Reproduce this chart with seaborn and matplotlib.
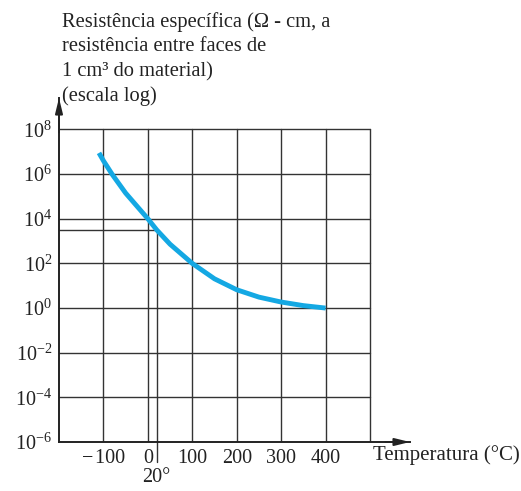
import numpy as np
import pandas as pd
import seaborn as sns
import matplotlib
matplotlib.use("Agg")
import matplotlib.pyplot as plt
from matplotlib.transforms import blended_transform_factory

# ---- data ----
temperatura = [-110, -100, -80, -50, 0, 20, 50, 100, 150, 200, 250, 300, 350, 400]
log_resist = [6.95, 6.6, 5.98, 5.15, 4.0, 3.5, 2.86, 2.0, 1.31, 0.82, 0.49, 0.27, 0.11, 0.0]
x_ticks = [-100, 0, 100, 200, 300, 400]
x_tick_labels = ["\u2212\u200a100", "0", "100", "200", "300", "400"]
x_grid = [-100, 0, 100, 200, 300, 400, 500]
y_exponents = [-6, -4, -2, 0, 2, 4, 6, 8]
ref_temp = 20
ref_log = 3.49

title_lines = ["Resistência específica (Ω - cm, a",
               "resistência entre faces de",
               "1 cm³ do material)",
               "(escala log)"]
x_label = "Temperatura (°C)"

df = pd.DataFrame({"T": temperatura, "R": [10.0 ** v for v in log_resist]})

sns.set_style("white")
plt.rcParams['font.family'] = ['Liberation Serif', 'DejaVu Serif']
plt.rcParams['mathtext.fontset'] = 'custom'
plt.rcParams['mathtext.rm'] = 'Liberation Serif'
plt.rcParams['mathtext.it'] = 'Liberation Serif:italic'
plt.rcParams['mathtext.bf'] = 'Liberation Serif:bold'

W, H = 521, 491
fig = plt.figure(figsize=(W / 100, H / 100), dpi=100)
ax = fig.add_axes([59 / W, 1 - 442 / H, (410 - 59) / W, (442 - 98) / H])

ax.set_yscale('log')
ax.set_xlim(-200, 590)
ax.set_ylim(1e-6, 10 ** 9.41)

grid_kw = dict(color='#333333', lw=1.0, zorder=1)
ymax_grid = 10.0 ** max(y_exponents)
for xv in x_grid:
    ax.plot([xv, xv], [1e-6, ymax_grid], **grid_kw)
for e in y_exponents[1:]:
    ax.plot([-200, max(x_grid)], [10.0 ** e, 10.0 ** e], **grid_kw)

# 20 degree reference crosshair
ax.plot([-200, ref_temp], [10 ** ref_log, 10 ** ref_log], **grid_kw)
ax.plot([ref_temp, ref_temp], [10 ** -6.9, 10 ** ref_log], clip_on=False, **grid_kw)

sns.lineplot(data=df, x="T", y="R", ax=ax, color='#14a8e3', lw=3.5,
             solid_capstyle='butt', solid_joinstyle='round', zorder=3)

ax.set_xlabel("")
ax.set_ylabel("")
ax.set_xticks(x_ticks)
ax.set_xticklabels(x_tick_labels, fontsize=14.5)
ax.set_yticks([10.0 ** e for e in y_exponents])
ax.set_yticklabels([r'$\mathregular{10^{%d}}$' % e for e in y_exponents], fontsize=14.5)
ax.minorticks_off()
ax.tick_params(axis='both', length=0, colors='#222222')
ax.tick_params(axis='x', pad=5)
ax.tick_params(axis='y', pad=5)

for s in ['top', 'right']:
    ax.spines[s].set_visible(False)
for s in ['left', 'bottom']:
    ax.spines[s].set_color('#222222')
    ax.spines[s].set_linewidth(1.4)

# axis arrows
ax.annotate('', xy=(1, 0), xycoords='axes fraction', xytext=(0.93, 0),
            arrowprops=dict(arrowstyle='-|>,head_length=0.9,head_width=0.22',
                            color='#222222', lw=1.4, shrinkA=0, shrinkB=0))
ax.annotate('', xy=(0, 1), xycoords='axes fraction', xytext=(0, 0.9),
            arrowprops=dict(arrowstyle='-|>,head_length=0.9,head_width=0.22',
                            color='#222222', lw=1.4, shrinkA=0, shrinkB=0))

# 20 degree label
tr = blended_transform_factory(ax.transData, ax.transAxes)
ax.annotate("20°", xy=(ref_temp, 0), xycoords=tr, xytext=(0, -28.5),
            textcoords='offset points', ha='center', va='baseline', fontsize=14.5,
            color='#222222')

fig.text(373 / W, 1 - 455 / H, x_label, ha='left', va='center', fontsize=15,
         color='#222222')

baselines = [26.5, 51.3, 76.0, 100.5]
for line, b in zip(title_lines, baselines):
    fig.text(61.5 / W, 1 - b / H, line, ha='left', va='baseline', fontsize=14.8,
             color='#222222')

fig.savefig("out.png", dpi=100)
